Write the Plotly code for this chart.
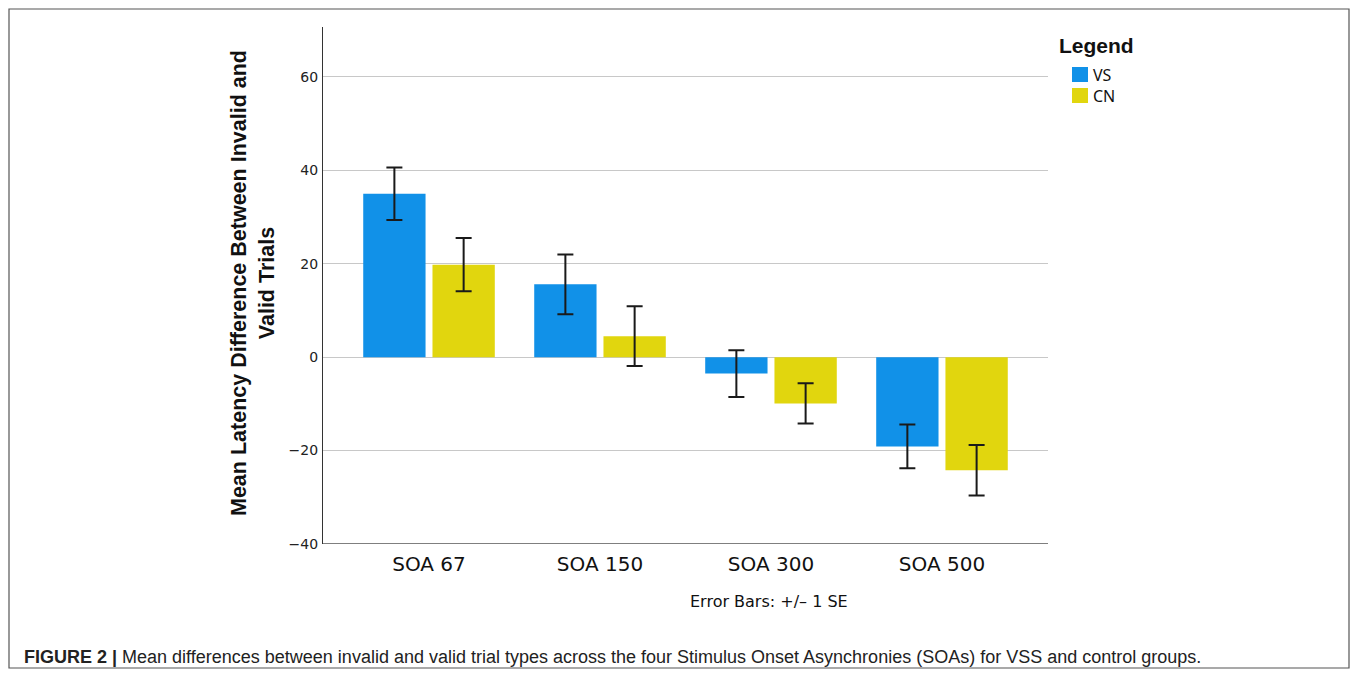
import plotly.graph_objects as go

categories = ["SOA 67", "SOA 150", "SOA 300", "SOA 500"]
vs_means = [35.0, 15.6, -3.5, -19.1]
vs_se = [5.6, 6.4, 5.0, 4.7]
cn_means = [19.8, 4.5, -9.9, -24.2]
cn_se = [5.7, 6.4, 4.3, 5.4]
y_ticks = [-40, -20, 0, 20, 40, 60]
series_names = ["VS", "CN"]

OFF = 8  # page body margin
W, H = 1358 - 2 * OFF, 677 - 2 * OFF
L, R, T, B = 323 - OFF, 1048 - OFF, 27 - OFF, 544 - OFF

def px(x):  # reference pixel x -> paper
    return (x - OFF - L) / (R - L)

def py(y):  # reference pixel y -> paper
    return (B - (y - OFF)) / (B - T)

xpos = list(range(len(categories)))
blue = "rgb(17,145,232)"
yellow = "rgb(225,214,14)"
colors = [blue, yellow]
err_style = dict(type="data", visible=True, thickness=2, width=8, color="#1a1a1a")

fig = go.Figure()
for name, means, se, col in zip(series_names, [vs_means, cn_means], [vs_se, cn_se], colors):
    fig.add_trace(go.Bar(x=xpos, y=means, name=name, marker=dict(color=col, line=dict(width=0)),
                         error_y=dict(array=se, **err_style)))

fig.update_layout(
    width=W, height=H,
    margin=dict(l=L, r=W - R, t=T, b=H - B, pad=0),
    paper_bgcolor="white", plot_bgcolor="white",
    barmode="group", bargap=0.19, bargroupgap=0.1,
    font=dict(family="DejaVu Sans", color="#222"),
    showlegend=False,
)

fig.update_xaxes(
    range=[-0.62, 3.62], tickvals=xpos, ticktext=categories,
    tickfont=dict(family="DejaVu Sans", size=20, color="#111"),
    showgrid=False, zeroline=False, showline=False, ticks="",
    ticklabelstandoff=6,
)
fig.update_yaxes(
    range=[-40, 70.7], tickvals=y_ticks, ticktext=["\u221240", "\u221220", "0", "20", "40", "60"],
    tickfont=dict(family="DejaVu Sans", size=14, color="#222"),
    showgrid=True, gridcolor="#c8c8c8", gridwidth=1.3,
    zeroline=False, showline=True, linecolor="#333", linewidth=1.2,
    ticks="", ticklabelstandoff=1,
)

# border drawn just inside the figure area (page x 9..1349, y 9..668)
bx0, bx1 = 1.0 / (R - L) * 1 - L / (R - L), (W - 1 - L) / (R - L)
by0, by1 = (B - (H - 1)) / (B - T), (B - 1) / (B - T)
shapes = [
    dict(type="line", xref="paper", yref="y", x0=0, x1=1, y0=-40, y1=-40, line=dict(color="#555", width=1.5)),
    dict(type="rect", xref="paper", yref="paper", x0=bx0, x1=bx1, y0=by0, y1=by1,
         line=dict(color="#555", width=1.2), fillcolor="rgba(0,0,0,0)", layer="below"),
]
annotations = [
    dict(text="<b>Mean Latency Difference Between Invalid and<br>Valid Trials</b>",
         x=px(253), y=py(283), xref="paper", yref="paper", xanchor="center", yanchor="middle",
         textangle=-90, showarrow=False,
         font=dict(family="Liberation Sans", size=21.5, color="#111")),
    dict(text="Error Bars: +/\u2013 1 SE", x=px(769), y=py(601), xref="paper", yref="paper",
         xanchor="center", yanchor="middle", showarrow=False,
         font=dict(family="DejaVu Sans", size=16, color="#111")),
    dict(text="<b>FIGURE 2 |</b> Mean differences between invalid and valid trial types across the four Stimulus Onset Asynchronies (SOAs) for VSS and control groups.",
         x=px(22), y=py(657), xref="paper", yref="paper", xanchor="left", yanchor="middle",
         showarrow=False, font=dict(family="Liberation Sans", size=18, color="#222")),
    dict(text="<b>Legend</b>", x=px(1057), y=py(45), xref="paper", yref="paper",
         xanchor="left", yanchor="middle", showarrow=False,
         font=dict(family="Liberation Sans", size=21, color="#111")),
]
# legend swatches and labels
for i, (name, col) in enumerate(zip(series_names, colors)):
    y0 = 67 + i * 21
    shapes.append(dict(type="rect", xref="paper", yref="paper", x0=px(1072), x1=px(1088),
                       y0=py(y0 + 15), y1=py(y0), line=dict(width=0), fillcolor=col))
    annotations.append(dict(text=name, x=px(1091), y=py(y0 + 8), xref="paper", yref="paper",
                            xanchor="left", yanchor="middle", showarrow=False,
                            font=dict(family="Noto Sans", size=16, color="#111")))

fig.update_layout(shapes=shapes, annotations=annotations)

fig.write_html("out.html")
